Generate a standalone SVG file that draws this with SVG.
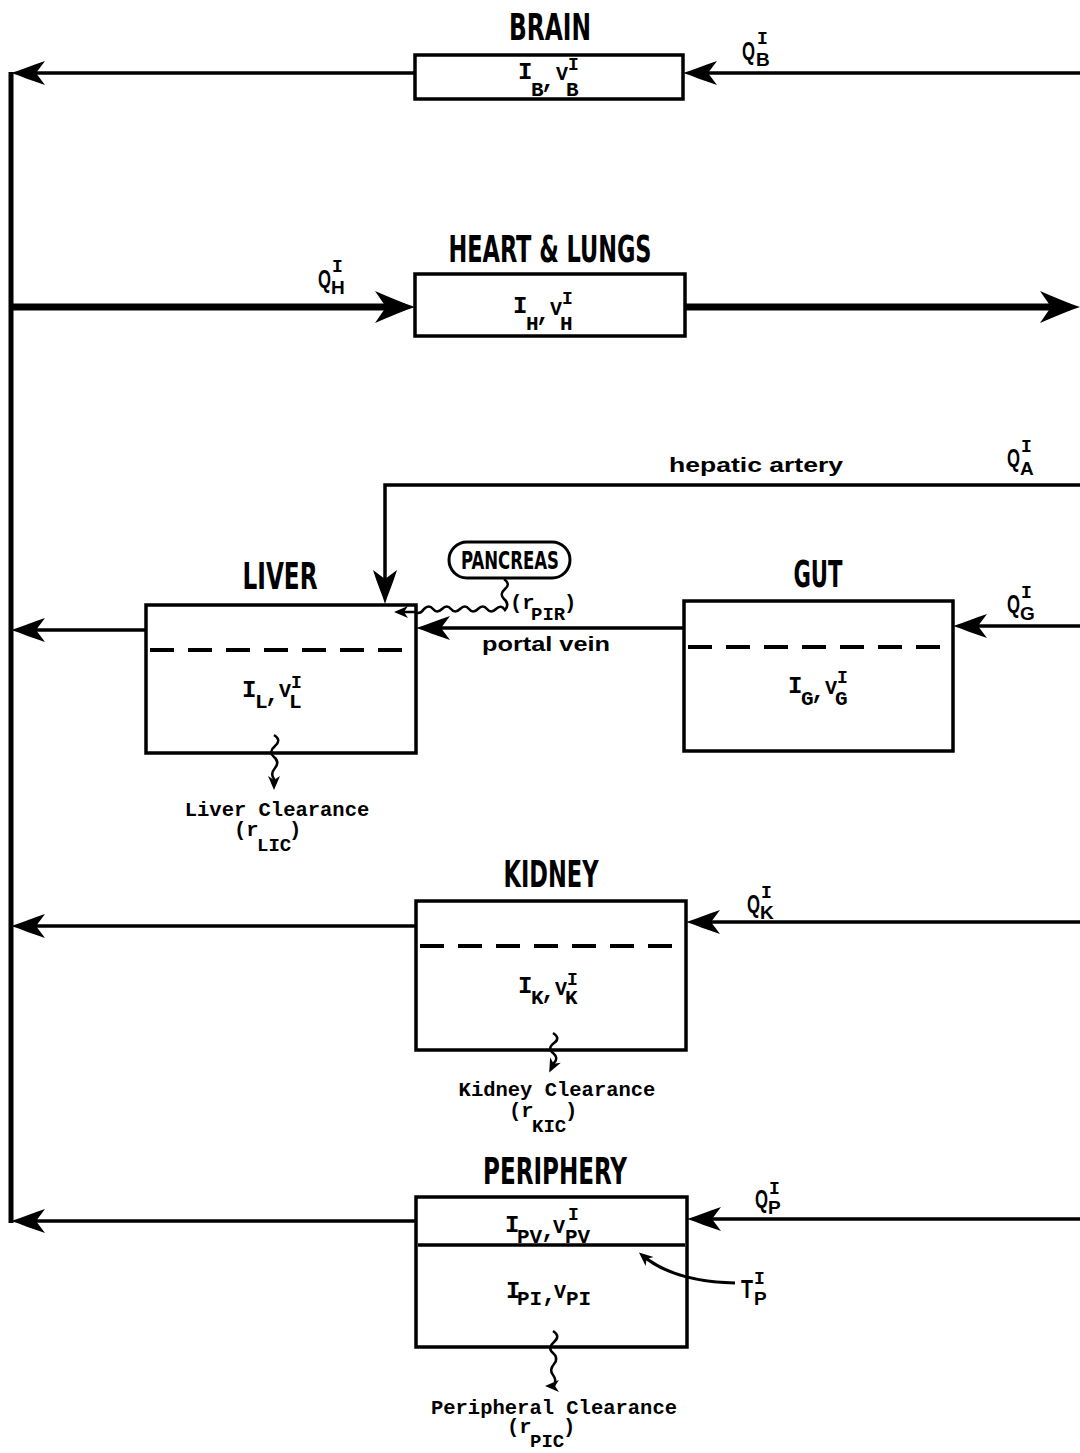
<svg xmlns="http://www.w3.org/2000/svg" width="1080" height="1453" viewBox="0 0 1080 1453">
<style>
.box{fill:none;stroke:#000;stroke-width:3.5}
.dash{stroke:#000;stroke-width:4;stroke-dasharray:24 14;fill:none}
.ln{stroke:#000;stroke-width:3.5;fill:none}
.thick{stroke-width:7}
.wv{stroke:#000;stroke-width:2.5;fill:none}
.title{font-family:"Liberation Sans Narrow","DejaVu Sans Condensed","Liberation Sans",sans-serif;font-weight:bold;font-size:38px;text-anchor:middle}
.m{font-family:"Liberation Mono","DejaVu Sans Mono",monospace;font-weight:bold;font-size:20.5px}
.b{font-family:"Liberation Mono","DejaVu Sans Mono",monospace;font-weight:bold;font-size:24px}
.sb{font-size:21px}
.sv{font-size:20px}
.sp{font-size:18px}
.s{font-size:19px}
.q{font-family:"Liberation Sans","DejaVu Sans",sans-serif;font-weight:bold;font-size:26px}
.qs{font-size:19px}
.qi{font-family:"Liberation Mono","DejaVu Sans Mono",monospace;font-size:18px}
.sans{font-family:"Liberation Sans","DejaVu Sans",sans-serif;font-weight:bold;font-size:20px}
</style>
<defs>
<marker id="ah" viewBox="-30 -14 40 28" refX="0" refY="0" markerWidth="40" markerHeight="28" markerUnits="userSpaceOnUse" orient="auto" overflow="visible">
<path d="M8,0 C-2,-3 -13,-8 -26,-12 L-17,0 L-26,12 C-13,8 -2,3 8,0 Z" fill="#000"/>
</marker>
<marker id="ahb" viewBox="-34 -17 46 34" refX="0" refY="0" markerWidth="46" markerHeight="34" markerUnits="userSpaceOnUse" orient="auto" overflow="visible">
<path d="M10,0 C-2,-4 -16,-10 -30,-16 L-19,0 L-30,16 C-16,10 -2,4 10,0 Z" fill="#000"/>
</marker>
<marker id="ahs" viewBox="-14 -8 20 16" refX="0" refY="0" markerWidth="20" markerHeight="16" markerUnits="userSpaceOnUse" orient="auto" overflow="visible">
<path d="M4,0 L-10,-6 L-6,0 L-10,6 Z" fill="#000"/>
</marker>
</defs>

<g id="connectors">
<path class="ln" d="M11,72 V1223" style="stroke-width:5"/>
<path class="ln" d="M415,73 H19" marker-end="url(#ah)"/>
<path class="ln" d="M1080,73 H691" marker-end="url(#ah)"/>
<path class="ln thick" d="M11,307 H405" marker-end="url(#ahb)"/>
<path class="ln thick" d="M685,307 H1070" marker-end="url(#ahb)"/>
<path class="ln" d="M1080,485 H385 V596" marker-end="url(#ah)"/>
<path class="ln" d="M146,630 H19" marker-end="url(#ah)"/>
<path class="ln" d="M684,628 H424" marker-end="url(#ah)"/>
<path class="ln" d="M1080,626 H961" marker-end="url(#ah)"/>
<path class="ln" d="M416,926 H19" marker-end="url(#ah)"/>
<path class="ln" d="M1080,922 H694" marker-end="url(#ah)"/>
<path class="ln" d="M416,1221 H19" marker-end="url(#ah)"/>
<path class="ln" d="M1080,1219 H695" marker-end="url(#ah)"/>
<path class="wv" d="M504,579 q7,5 1,10 t-1,10 q6,5 1,11 q-4,-6 -9,-1 t-9,0 t-9,0 t-9,0 t-9,0 t-9,0 t-9,0 t-9,0 t-9,0 q-4,6 -9,3 H398" marker-end="url(#ahs)"/>
<path class="wv" d="M274,735 q8,5 1,11 t-1,11 t1,11 t-1,11 L274,786" marker-end="url(#ahs)"/>
<path class="wv" d="M553,1033 q8,5 1,10 t-1,10 t1,10 L551,1069" marker-end="url(#ahs)"/>
<path class="wv" d="M553,1331 q8,5 1,11 t-1,11 t1,11 t-1,11 t1,11 L549,1386" marker-end="url(#ahs)"/>
<path class="ln" d="M735,1283 C695,1282 664,1274 642,1255" style="stroke-width:3" marker-end="url(#ahs)"/>
</g>

<g id="brain">
<text class="title" x="550" y="40" textLength="82" lengthAdjust="spacingAndGlyphs">BRAIN</text>
<rect class="box" x="415" y="55" width="268" height="44"/>
<text class="b"><tspan x="518" y="79">I</tspan><tspan class="sb" x="531" y="96">B</tspan><tspan x="541" y="88">,</tspan><tspan class="sv" x="556" y="80">V</tspan><tspan class="sp" x="568" y="70">I</tspan><tspan class="sb" x="566" y="96">B</tspan></text>
<text class="q"><tspan x="742" y="60" textLength="13" lengthAdjust="spacingAndGlyphs">Q</tspan><tspan class="qi" x="757" y="44">I</tspan><tspan class="qs" x="756" y="66">B</tspan></text>
</g>

<g id="heart-lungs">
<text class="title" x="550" y="262" textLength="203" lengthAdjust="spacingAndGlyphs">HEART &amp; LUNGS</text>
<rect class="box" x="415" y="274" width="270" height="62"/>
<text class="b"><tspan x="513" y="313">I</tspan><tspan class="sb" x="526" y="330">H</tspan><tspan x="536" y="321">,</tspan><tspan class="sv" x="550" y="315">V</tspan><tspan class="sp" x="562" y="304">I</tspan><tspan class="sb" x="560" y="330">H</tspan></text>
<text class="q"><tspan x="318" y="288" textLength="13" lengthAdjust="spacingAndGlyphs">Q</tspan><tspan class="qi" x="332" y="272">I</tspan><tspan class="qs" x="331" y="294">H</tspan></text>
</g>

<g id="hepatic-artery-label">
<text class="sans" x="756" y="472" text-anchor="middle" textLength="174" lengthAdjust="spacingAndGlyphs">hepatic artery</text>
<text class="q"><tspan x="1007" y="467" textLength="13" lengthAdjust="spacingAndGlyphs">Q</tspan><tspan class="qi" x="1021" y="452">I</tspan><tspan class="qs" x="1020" y="475">A</tspan></text>
</g>

<g id="liver">
<text class="title" x="280" y="589" textLength="75" lengthAdjust="spacingAndGlyphs">LIVER</text>
<rect class="box" x="146" y="605" width="270" height="148"/>
<path class="dash" d="M150,650 H413"/>
<text class="b"><tspan x="242" y="697">I</tspan><tspan class="sb" x="255" y="708">L</tspan><tspan x="265" y="702">,</tspan><tspan class="sv" x="279" y="697">V</tspan><tspan class="sp" x="291" y="688">I</tspan><tspan class="sb" x="289" y="708">L</tspan></text>
<text class="m" x="277" y="816" text-anchor="middle">Liver Clearance</text>
<text class="m"><tspan x="234" y="836">(r</tspan><tspan class="s" x="257" y="851">LIC</tspan><tspan x="289" y="836">)</tspan></text>
</g>

<g id="pancreas">
<rect x="449" y="542" width="121" height="36" rx="18" fill="none" stroke="#000" stroke-width="3"/>
<text class="title" x="510" y="569" style="font-size:25px" textLength="98" lengthAdjust="spacingAndGlyphs">PANCREAS</text>
<text class="m"><tspan x="510" y="609">(r</tspan><tspan class="s" x="531" y="620">PIR</tspan><tspan x="564" y="609">)</tspan></text>
</g>

<g id="portal-vein-label">
<text class="sans" x="546" y="651" text-anchor="middle" textLength="128" lengthAdjust="spacingAndGlyphs">portal vein</text>
</g>

<g id="gut">
<text class="title" x="818" y="587" textLength="49" lengthAdjust="spacingAndGlyphs">GUT</text>
<rect class="box" x="684" y="601" width="269" height="150"/>
<path class="dash" d="M688,647 H950"/>
<text class="b"><tspan x="788" y="693">I</tspan><tspan class="sb" x="801" y="705">G</tspan><tspan x="811" y="699">,</tspan><tspan class="sv" x="825" y="694">V</tspan><tspan class="sp" x="837" y="683">I</tspan><tspan class="sb" x="835" y="705">G</tspan></text>
<text class="q"><tspan x="1007" y="613" textLength="13" lengthAdjust="spacingAndGlyphs">Q</tspan><tspan class="qi" x="1021" y="598">I</tspan><tspan class="qs" x="1020" y="620">G</tspan></text>
</g>

<g id="kidney">
<text class="title" x="551" y="887" textLength="95" lengthAdjust="spacingAndGlyphs">KIDNEY</text>
<rect class="box" x="416" y="901" width="270" height="149"/>
<path class="dash" d="M420,946 H683"/>
<text class="b"><tspan x="518" y="993">I</tspan><tspan class="sb" x="531" y="1004">K</tspan><tspan x="541" y="999">,</tspan><tspan class="sv" x="555" y="995">V</tspan><tspan class="sp" x="567" y="985">I</tspan><tspan class="sb" x="565" y="1004">K</tspan></text>
<text class="q"><tspan x="747" y="913" textLength="13" lengthAdjust="spacingAndGlyphs">Q</tspan><tspan class="qi" x="761" y="898">I</tspan><tspan class="qs" x="760" y="919">K</tspan></text>
<text class="m" x="557" y="1096" text-anchor="middle">Kidney Clearance</text>
<text class="m"><tspan x="509" y="1117">(r</tspan><tspan class="s" x="532" y="1132">KIC</tspan><tspan x="565" y="1117">)</tspan></text>
</g>

<g id="periphery">
<text class="title" x="555" y="1184" textLength="144" lengthAdjust="spacingAndGlyphs">PERIPHERY</text>
<rect class="box" x="416" y="1197" width="271" height="150"/>
<path class="ln" d="M418,1245 H685"/>
<text class="b"><tspan x="505" y="1232">I</tspan><tspan class="sb" x="517" y="1243">PV</tspan><tspan x="541" y="1238">,</tspan><tspan class="sv" x="553" y="1233">V</tspan><tspan class="sp" x="568" y="1220">I</tspan><tspan class="sb" x="565" y="1243">PV</tspan></text>
<text class="b"><tspan x="506" y="1298">I</tspan><tspan class="sb" x="517" y="1305">PI</tspan><tspan x="542" y="1302">,</tspan><tspan class="sv" x="554" y="1298">V</tspan><tspan class="sb" x="566" y="1305">PI</tspan></text>
<text class="q"><tspan x="755" y="1208" textLength="13" lengthAdjust="spacingAndGlyphs">Q</tspan><tspan class="qi" x="769" y="1194">I</tspan><tspan class="qs" x="768" y="1214">P</tspan></text>
<text class="q"><tspan x="741" y="1298" textLength="12" lengthAdjust="spacingAndGlyphs">T</tspan><tspan class="qi" x="754" y="1284">I</tspan><tspan class="qs" x="754" y="1305">P</tspan></text>
<text class="m" x="554" y="1414" text-anchor="middle">Peripheral Clearance</text>
<text class="m"><tspan x="507" y="1433">(r</tspan><tspan class="s" x="530" y="1447">PIC</tspan><tspan x="563" y="1433">)</tspan></text>
</g>
</svg>
